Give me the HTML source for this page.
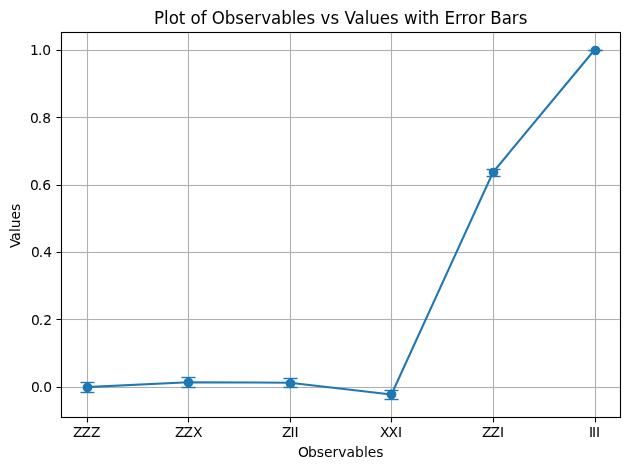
<!DOCTYPE html>
<html lang="en"><head><meta charset="utf-8"><title>Plot of Observables vs Values with Error Bars</title>
<style>
html,body{margin:0;padding:0;background:#fff;}
body{width:630px;height:470px;overflow:hidden;}
svg{display:block;}
svg text{font-family:"DejaVu Sans","Liberation Sans",sans-serif;fill:#000;}
</style></head><body>
<svg width="630" height="470" viewBox="0 0 630 470">
<rect width="630" height="470" fill="#fff"/>
<path d="M87.5 32.5V417.5M188.5 32.5V417.5M290.5 32.5V417.5M391.5 32.5V417.5M493.5 32.5V417.5M595.5 32.5V417.5" fill="none" stroke="#b0b0b0" stroke-width="1.111"/>
<path d="M61.5 387H620.5V388H61.5ZM61.5 319H620.5V320H61.5ZM61.5 252H620.5V253H61.5ZM61.5 185H620.5V186H61.5ZM61.5 117H620.5V118H61.5ZM61.5 50H620.5V51H61.5Z" fill="#b0b0b0"/>
<path d="M61.5 386H620.5V387H61.5ZM61.5 388H620.5V389H61.5ZM61.5 318H620.5V319H61.5ZM61.5 320H620.5V321H61.5ZM61.5 251H620.5V252H61.5ZM61.5 253H620.5V254H61.5ZM61.5 184H620.5V185H61.5ZM61.5 186H620.5V187H61.5ZM61.5 116H620.5V117H61.5ZM61.5 118H620.5V119H61.5ZM61.5 49H620.5V50H61.5ZM61.5 51H620.5V52H61.5Z" fill="#b0b0b0" fill-opacity="0.056"/>
<path d="M87.5 417.5V422.5M188.5 417.5V422.5M290.5 417.5V422.5M391.5 417.5V422.5M493.5 417.5V422.5M595.5 417.5V422.5M56.5 387.5H61.5M56.5 319.5H61.5M56.5 252.5H61.5M56.5 185.5H61.5M56.5 117.5H61.5M56.5 50.5H61.5" fill="none" stroke="#000" stroke-width="1.111"/>
<clipPath id="c"><rect x="61.278" y="32.333" width="558.722" height="384.389"/></clipPath>
<g clip-path="url(#c)">
<path d="M87 382.105V392.078M188 377.264V387.237M290 378.201V387.203M391 389.65V399.25M493 168.747V175.748" fill="none" stroke="#1f77b4" stroke-width="2.083"/>
<path d="M86.674 387.092L188.26 382.25L289.846 382.702L391.432 394.45L493.018 172.247L594.604 49.806" fill="none" stroke="#1f77b4" stroke-width="2.083" stroke-linejoin="round" stroke-linecap="square"/>
<path d="M80.5 392H94.5V393H80.5ZM181.5 387H195.5V388H181.5ZM283.5 387H297.5V388H283.5ZM384.5 399H398.5V400H384.5ZM486.5 176H500.5V177H486.5ZM588.5 50H602.5V51H588.5Z" fill="#1f77b4"/>
<path d="M80.5 391H94.5V392H80.5ZM80.5 393H94.5V394H80.5ZM181.5 386H195.5V387H181.5ZM181.5 388H195.5V389H181.5ZM283.5 386H297.5V387H283.5ZM283.5 388H297.5V389H283.5ZM384.5 398H398.5V399H384.5ZM384.5 400H398.5V401H384.5ZM486.5 175H500.5V176H486.5ZM486.5 177H500.5V178H486.5ZM588.5 49H602.5V50H588.5ZM588.5 51H602.5V52H588.5Z" fill="#1f77b4" fill-opacity="0.194"/>
<path d="M80.5 382H94.5V383H80.5ZM181.5 377H195.5V378H181.5ZM283.5 378H297.5V379H283.5ZM384.5 390H398.5V391H384.5ZM486.5 169H500.5V170H486.5ZM588.5 50H602.5V51H588.5Z" fill="#1f77b4"/>
<path d="M80.5 381H94.5V382H80.5ZM80.5 383H94.5V384H80.5ZM181.5 376H195.5V377H181.5ZM181.5 378H195.5V379H181.5ZM283.5 377H297.5V378H283.5ZM283.5 379H297.5V380H283.5ZM384.5 389H398.5V390H384.5ZM384.5 391H398.5V392H384.5ZM486.5 168H500.5V169H486.5ZM486.5 170H500.5V171H486.5ZM588.5 49H602.5V50H588.5ZM588.5 51H602.5V52H588.5Z" fill="#1f77b4" fill-opacity="0.194"/>
<circle cx="87.5" cy="387.5" r="4.167" fill="#1f77b4" stroke="#1f77b4" stroke-width="1.389"/>
<circle cx="188.5" cy="382.5" r="4.167" fill="#1f77b4" stroke="#1f77b4" stroke-width="1.389"/>
<circle cx="290.5" cy="383.5" r="4.167" fill="#1f77b4" stroke="#1f77b4" stroke-width="1.389"/>
<circle cx="391.5" cy="394.5" r="4.167" fill="#1f77b4" stroke="#1f77b4" stroke-width="1.389"/>
<circle cx="493.5" cy="172.5" r="4.167" fill="#1f77b4" stroke="#1f77b4" stroke-width="1.389"/>
<circle cx="595.5" cy="50.5" r="4.167" fill="#1f77b4" stroke="#1f77b4" stroke-width="1.389"/>
</g>
<rect x="61.5" y="32.5" width="559" height="385" fill="none" stroke="#000" stroke-width="1.111"/>
<text transform="translate(73 437)" font-size="13.889" x="0 8.5 18" y="0">ZZZ</text>
<text transform="translate(175 437)" font-size="13.889" x="0 8.5 18" y="0">ZZX</text>
<text transform="translate(282 437)" font-size="13.889" x="0 8.5 12.5" y="0">ZII</text>
<text transform="translate(380 437)" font-size="13.889" x="0 8.5 18" y="0">XXI</text>
<text transform="translate(482 437)" font-size="13.889" x="0 8.5 18" y="0">ZZI</text>
<text transform="translate(590 437)" font-size="13.889" x="-1 2 6" y="0">III</text>
<text transform="translate(298 457)" font-size="13.889" x="0 9.875 18.75 25.875 34.375 40.125 48.375 57 65.875 69.75 78.25" y="0">Observables</text>
<text transform="translate(31 392)" font-size="13.889" x="0 7.75 12.125" y="0">0.0</text>
<text transform="translate(31 325)" font-size="13.889" x="0 7.75 12.125" y="0">0.2</text>
<text transform="translate(31 257)" font-size="13.889" x="0 7.75 12.125" y="0">0.4</text>
<text transform="translate(30 190)" font-size="13.889" x="0 7.75 12.125" y="0">0.6</text>
<text transform="translate(30 123)" font-size="13.889" x="0 7.75 12.125" y="0">0.8</text>
<text transform="translate(31 55)" font-size="13.889" x="-1 6.875 11.25" y="0">1.0</text>
<text transform="translate(20 248) rotate(-90)" font-size="13.889" x="0 7.375 16 19.875 28.625 37.125" y="0">Values</text>
<text transform="translate(154 24) scale(1 1.055)" font-size="16.667" x="0 10.125 14.75 24.875 31.375 36.625 46.75 52.625 57.875 70.875 81.375 90.125 100.375 107.25 117.125 127.25 137.75 142.375 152.625 161.375 166.625 176.5 185.25 190.5 200.625 210.75 215.375 225.875 236.125 244.875 250.125 263.75 268.375 274.875 285.375 290.625 301 307.625 314.125 324.25 331.125 336.375 347.75 357.875 364.75" y="0">Plot of Observables vs Values with Error Bars</text>
</svg>
</body></html>
